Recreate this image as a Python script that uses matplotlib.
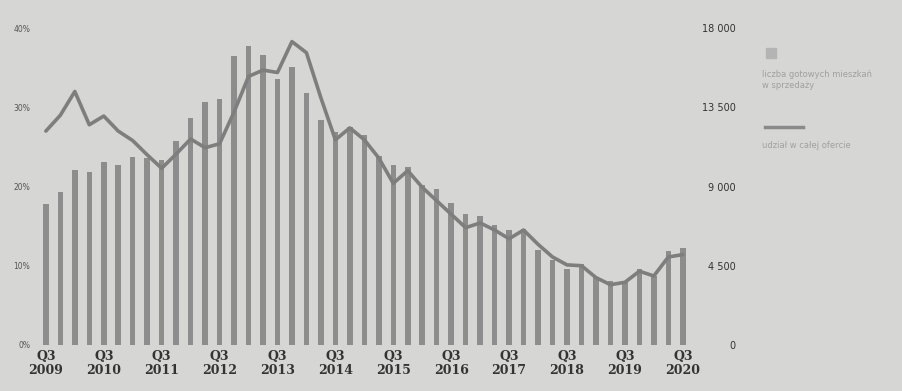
"""
Ready-to-sell flats on the market vs their share in total offer, Q3 2009 - Q3 2020
"""

import matplotlib.pyplot as plt
from matplotlib.patches import Rectangle
from matplotlib.lines import Line2D
import numpy as np

# quarters Q3 2009 .. Q3 2020
quarters = [f"Q{(q % 4) + 1} {2009 + (q + 2) // 4}" for q in range(2, 47)]
tick_labels = [f"Q3\n{y}" for y in range(2009, 2021)]

# number of ready flats for sale (right axis)
flats = [8000, 8700, 9950, 9850, 10400, 10250, 10700, 10600, 10500, 11600,
         12900, 13800, 14000, 16400, 17000, 16500, 15100, 15800, 14300, 12800,
         12100, 12400, 11900, 10750, 10200, 10100, 9100, 8850, 8050, 7450,
         7300, 6800, 6500, 6600, 5400, 4850, 4300, 4600, 3850, 3650,
         3650, 4300, 3900, 5350, 5500]

# share in total offer, % (left axis)
share = [27.0, 29.0, 32.0, 27.8, 28.9, 27.0, 25.8, 24.0, 22.3, 24.1,
         26.0, 24.9, 25.4, 29.4, 33.9, 34.7, 34.4, 38.3, 36.9, 31.2,
         25.9, 27.4, 25.9, 23.6, 20.4, 22.0, 19.9, 18.2, 16.5, 14.8,
         15.4, 14.5, 13.4, 14.5, 12.7, 11.1, 10.1, 10.0, 8.5, 7.6,
         7.9, 9.3, 8.7, 11.1, 11.4]

bg = '#d6d6d4'
bar_color = '#8d8d8d'
line_color = '#7e7e7e'
text_color = '#333333'

fig = plt.figure(figsize=(9.02, 3.91), dpi=100, facecolor=bg)
ax = fig.add_axes([0.038, 0.118, 0.727, 0.81])
ax.set_facecolor(bg)
ax2 = ax.twinx()

x = np.arange(len(quarters))

# bars on the right axis
ax2.bar(x, flats, width=0.38, color=bar_color, zorder=1)
ax2.set_ylim(0, 18000)
ax2.set_yticks([0, 4500, 9000, 13500, 18000])
ax2.set_yticklabels(['0', '4 500', '9 000', '13 500', '18 000'])
ax2.tick_params(axis='y', length=0, pad=33, labelsize=7, labelcolor=text_color)
for lbl in ax2.get_yticklabels():
    lbl.set_horizontalalignment('right')

# line on the left axis, drawn above bars
ax.set_zorder(ax2.get_zorder() + 1)
ax.patch.set_visible(False)
ax.plot(x, share, color=line_color, linewidth=2.6, solid_joinstyle='round',
        solid_capstyle='round')
ax.set_ylim(0, 40)
ax.set_yticks([0, 10, 20, 30, 40])
ax.set_yticklabels(['0%', '10%', '20%', '30%', '40%'])
ax.tick_params(axis='y', length=0, pad=3, labelsize=5.5, labelcolor='#555555')

ax.set_xlim(-0.8, len(quarters) - 0.5)
ax.set_xticks(x[::4])
ax.set_xticklabels(tick_labels, fontfamily='DejaVu Serif', fontweight='bold',
                   fontsize=9, color=text_color, linespacing=1.1)
ax.tick_params(axis='x', length=0, pad=4)

for a in (ax, ax2):
    for s in a.spines.values():
        s.set_visible(False)

# legend on the right, drawn by hand
fig.add_artist(Rectangle((766 / 902, 1 - 58 / 391), 10 / 902, 10 / 391,
                         transform=fig.transFigure, color='#b4b4b4'))
fig.text(762 / 902, 1 - 80 / 391, 'liczba gotowych mieszkań\nw sprzedaży',
         fontsize=6, color='#a0a0a0', va='center', ha='left', linespacing=1.3)
fig.add_artist(Line2D([765 / 902, 803 / 902], [1 - 127 / 391, 1 - 127 / 391],
                      transform=fig.transFigure, color='#8a8a8a', linewidth=2.5))
fig.text(762 / 902, 1 - 146 / 391, 'udział w całej ofercie',
         fontsize=6, color='#a0a0a0', va='center', ha='left')

plt.savefig('out.png', dpi=100, facecolor=bg)
